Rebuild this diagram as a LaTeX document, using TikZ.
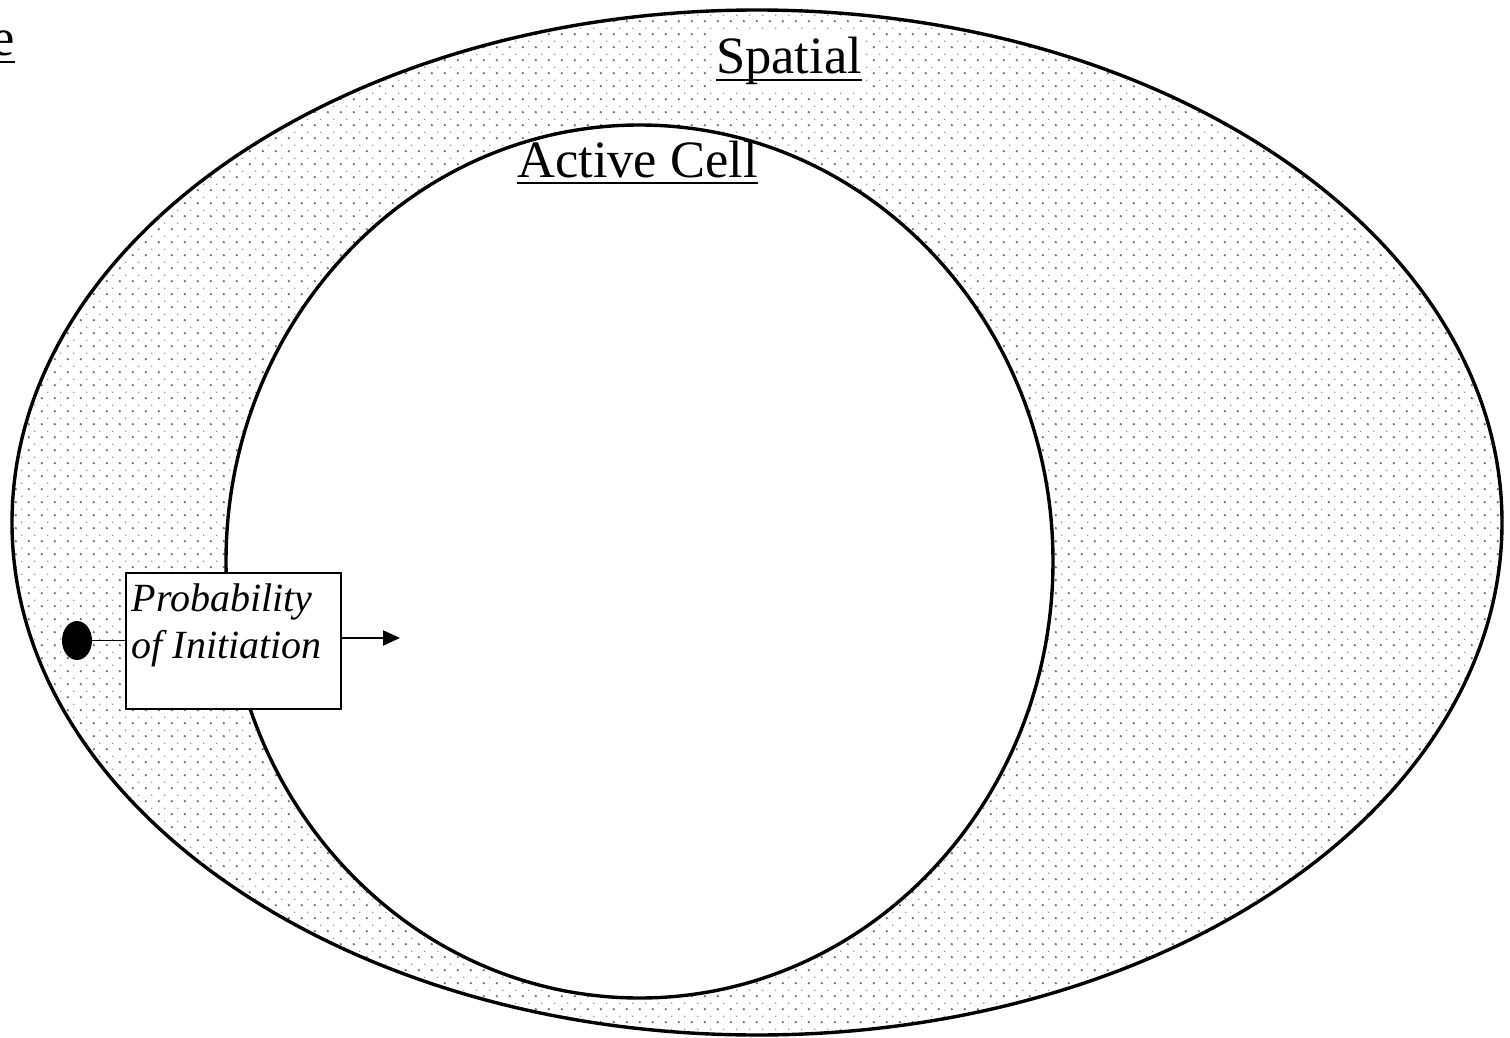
\documentclass[tikz,border=0pt]{standalone}
\usepackage{fontspec}
\setmainfont{Liberation Serif}
\usetikzlibrary{patterns,arrows.meta,shapes.geometric}

% staggered stipple used for the spatial region
\pgfdeclarepatternformonly{stipple}{\pgfqpoint{0pt}{0pt}}{\pgfqpoint{13pt}{13pt}}{\pgfqpoint{13pt}{13pt}}{%
  \pgfpathcircle{\pgfqpoint{3pt}{3pt}}{1.35pt}%
  \pgfpathcircle{\pgfqpoint{9.5pt}{9.5pt}}{0.8pt}%
  \pgfusepath{fill}}

% underline set close under the baseline, crossing descenders
\newcommand{\ulined}[1]{\setbox0\hbox{#1}\rlap{\rule[-7.5pt]{\wd0}{2.4pt}}\box0}

\tikzset{
  title/.style={font=\fontsize{52.5}{60}\selectfont, inner sep=0pt},
  region/.style={line width=3.4pt},
  probbox/.style={draw, fill=white, line width=2.2pt, inner sep=0pt,
    minimum width=215pt, minimum height=136pt, anchor=north west},
  probtext/.style={font=\fontsize{40}{47}\selectfont\itshape, align=left,
    inner sep=0pt, anchor=north west},
}

\begin{document}
\begin{tikzpicture}[x=1pt, y=-1pt]
  \useasboundingbox (0,0) rectangle (1510,1038);

  % spatial region: stippled ellipse with the active cell left clear
  \path[pattern=stipple, pattern color=black!55]
    (757,522.5) ellipse [x radius=745pt, y radius=512.5pt];
  \fill[white] (639.5,561.5) ellipse [x radius=413.5pt, y radius=436.5pt];
  \draw[region] (757,522.5) ellipse [x radius=745pt, y radius=512.5pt];
  \draw[region] (639.5,561.5) ellipse [x radius=413.5pt, y radius=436.5pt];

  % labels
  \node[title, anchor=base east] (time) at (15,56) {\ulined{e}};
  \node[title, anchor=base west, fill=white, inner xsep=4pt, inner ysep=6pt] (spatial)
    at (712,74) {\ulined{Spatial}\hspace{19pt}};
  \node[title, anchor=base west] (cell) at (517,177) {\ulined{Active Cell}};

  % initiation probability with its source and outgoing arrow
  \node[probbox] (prob) at (125,572) {};
  \node[probtext] (probtxt) at (131.5,584) {Probability\\of Initiation};
  \node[ellipse, fill=black, minimum width=30pt, minimum height=39pt, inner sep=0pt]
    (src) at (77,640.5) {};
  \draw[line width=1.6pt] (src.east) -- (prob.west |- src.east);
  \coordinate (tip) at (400,638);
  \draw[line width=2.2pt, -{Triangle[length=17pt, width=15pt]}] (prob.east |- tip) -- (tip);
\end{tikzpicture}
\end{document}
